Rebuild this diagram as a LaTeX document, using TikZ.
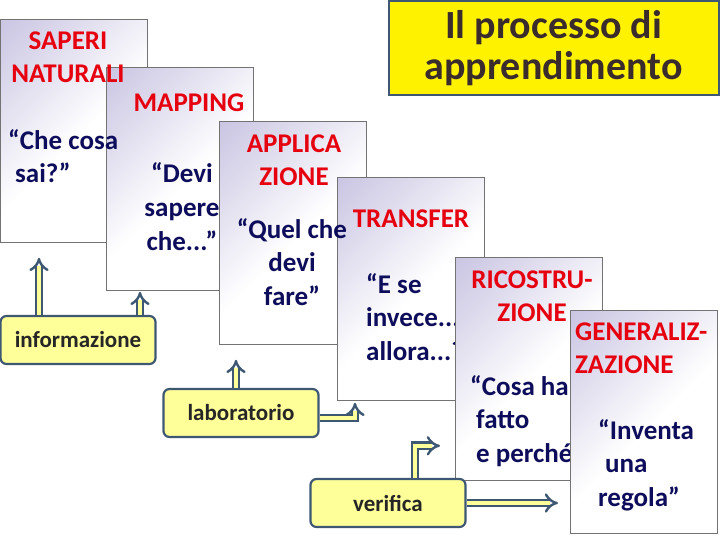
\documentclass[tikz,border=0pt]{standalone}
\usepackage{fontspec}
\setmainfont{Carlito}
\usetikzlibrary{arrows.meta, calc}
\definecolor{slate}{HTML}{3E5873}
\definecolor{lav}{HTML}{B7B0D8}
\definecolor{pale}{HTML}{FFFF99}
\definecolor{redtxt}{HTML}{E6000F}
\definecolor{navy}{HTML}{0D0D5C}
\definecolor{titletxt}{HTML}{3A2C2C}
\pgfdeclarehorizontalshading{cardshade}{100bp}{color(0bp)=(lav); color(30bp)=(lav!45!white); color(52bp)=(white); color(100bp)=(white)}

\begin{document}
\begin{tikzpicture}[
        x=1pt, y=-1pt,
        card/.style={draw=black!55, line width=0.8pt,
                     shade, shading=cardshade, shading angle=-45,
                     anchor=north west, inner sep=0pt,
                     minimum width=147pt, minimum height=223pt},
        head/.style={font=\fontsize{27}{33}\selectfont\bfseries, text=redtxt,
                     align=center, inner sep=0pt},
        quote/.style={font=\fontsize{27}{33.5}\selectfont\bfseries, text=navy,
                      align=left, inner sep=0pt},
        tool/.style={draw=slate, line width=2.2pt, fill=pale, rounded corners=6pt,
                     minimum width=155pt, minimum height=48pt,
                     font=\fontsize{23}{26}\selectfont\bfseries, text=black!85},
        hollow/.style={draw=slate, line width=2.4pt, double=pale,
                       double distance=4pt, -{Implies[scale=1.15]}},
    ]
    \useasboundingbox (0,0) rectangle (720,540);

    % titolo
    \node[draw=slate, line width=2pt, fill=yellow, minimum width=330pt,
          minimum height=94pt, align=center, text=titletxt,
          font=\fontsize{40}{41}\selectfont\bfseries] (title) at (553.5,48)
          {Il processo di\\apprendimento};

    % schede (prime quattro)
    \node[card] (saperi) at (0,19) {};
    \node[card] (mapping) at (106,67) {};
    \node[card] (applica) at (219,121) {};
    \node[card] (transfer) at (337,177) {};

    % testi delle prime tre schede (base = ultima riga)
    \node[head, anchor=base] (saperiT) at (68,83) {SAPERI\\NATURALI};
    \node[quote, anchor=base west] (saperiQ) at (8,183) {“Che cosa\\\hspace*{7pt}sai?”};
    \node[head, anchor=base] (mappingT) at (189,112) {MAPPING};
    \node[quote, align=center, anchor=base] (mappingQ) at (182,250) {“Devi\\sapere\\che...”};
    \node[head, anchor=base] (applicaT) at (294,186) {APPLICA\\ZIONE};
    \node[quote, align=center, anchor=base] (applicaQ) at (292,305) {“Quel che\\devi\\fare”};

    % TRANSFER
    \node[head, anchor=base] (transferT) at (411,227) {TRANSFER};
    \node[quote, anchor=base west] (transferQ) at (366,360) {“E se\\invece...\\allora...?”};

    % RICOSTRUZIONE
    \node[card] (ricostr) at (455,257) {};
    \node[head, anchor=base] (ricostrT) at (532,321) {RICOSTRU-\\ZIONE};
    \node[quote, anchor=base west] (ricostrQ) at (470,462) {“Cosa hai\\\hspace*{6pt}fatto\\\hspace*{6pt}e perché?”};

    % GENERALIZZAZIONE
    \node[card] (general) at (570,310) {};
    \node[head, align=left, anchor=base west] (generalT) at (575,373) {GENERALIZ-\\ZAZIONE};
    \node[quote, anchor=base west] (generalQ) at (598,506) {“Inventa\\\hspace*{7pt}una\\regola”};

    % strumenti
    \node[tool] (info) at (78,340) {informazione};
    \node[tool] (lab) at (241,413) {laboratorio};
    \node[tool] (verif) at (388,503) {verifica};

    % frecce
    \draw[hollow, shorten >=15pt] ([xshift=-39pt]info.north) -- ([xshift=-39pt]info.north |- saperi.south);
    \draw[hollow, shorten >=1pt] ([xshift=62pt]info.north) -- ([xshift=62pt]info.north |- mapping.south);
    \draw[hollow, shorten >=15pt] ([xshift=-5pt]lab.north) -- ([xshift=-5pt]lab.north |- applica.south);
    \draw[hollow, shorten >=2pt] ([yshift=-5pt]lab.east) -| ([xshift=18pt]transfer.south west);
    \draw[hollow, shorten >=15pt] ([xshift=27pt]verif.north) |- ([yshift=35pt]ricostr.south west);
    \draw[hollow, shorten >=12pt] (verif.east) -- (verif.east -| general.west);

    \end{tikzpicture}
\end{document}
